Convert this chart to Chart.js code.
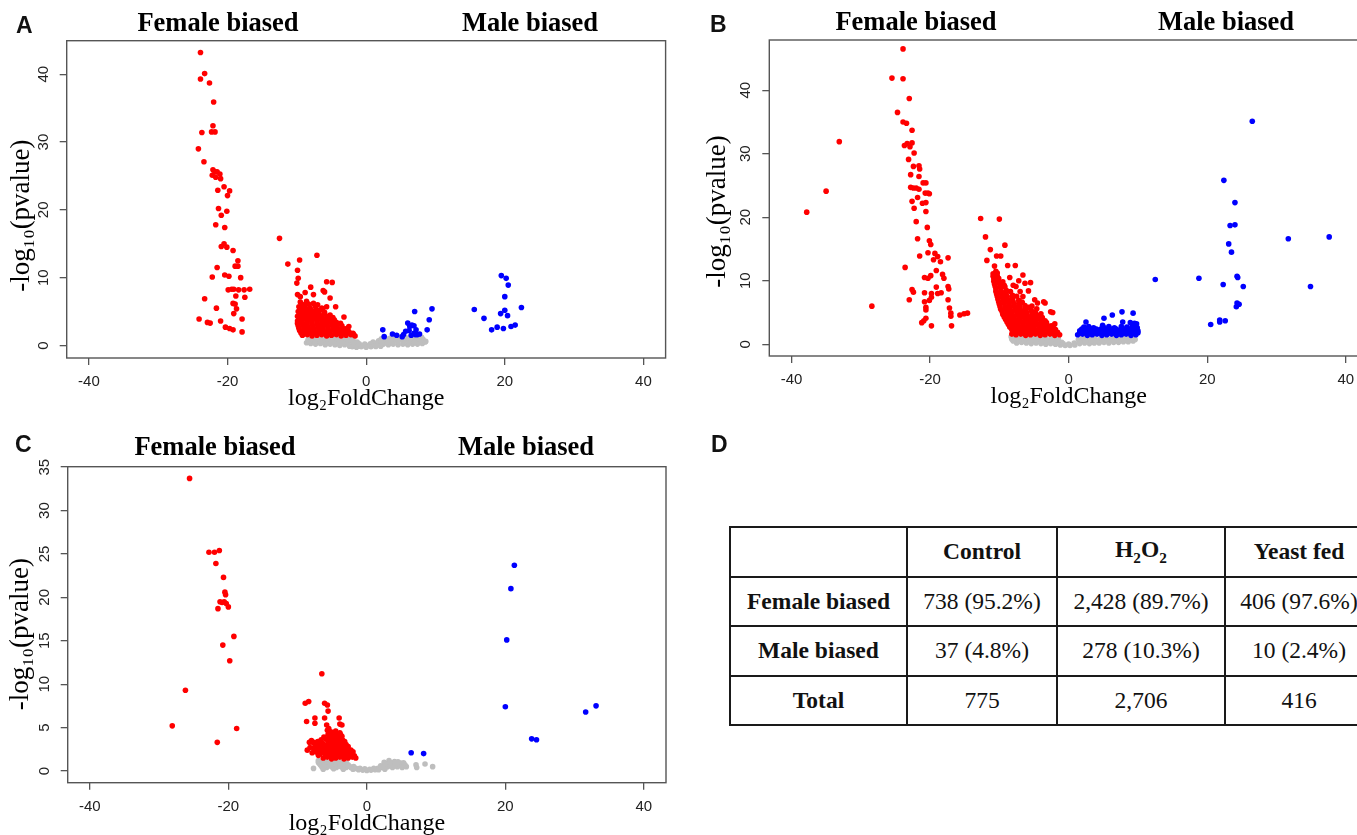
<!DOCTYPE html>
<html><head><meta charset="utf-8">
<script src="https://cdn.jsdelivr.net/npm/chart.js@4.4.1/dist/chart.umd.min.js"></script>
<style>
html,body{margin:0;padding:0;background:#fff;}
body{width:1357px;height:835px;overflow:hidden;position:relative;}
.panel{position:absolute;}
.lbl{position:absolute;font:bold 23px "Liberation Sans",Arial,sans-serif;line-height:1;color:#111;}
.ttl{position:absolute;width:300px;text-align:center;font:bold 26.5px "Liberation Serif","Times New Roman",serif;line-height:1;color:#000;white-space:nowrap;}
#tbl{position:absolute;left:729px;top:526px;border-collapse:collapse;table-layout:fixed;width:643px;font:23.5px "Liberation Serif","Times New Roman",serif;color:#111;}
#tbl td{border:2px solid #1a1a1a;text-align:center;padding:0;height:46px;white-space:nowrap;}
#tbl .b{font-weight:bold;}
#tbl sub{font-size:65%;}
</style></head>
<body>
<div class="panel" style="left:0;top:0;width:680px;height:422px"><canvas id="cA" width="680" height="422"></canvas></div>
<div class="panel" style="left:680px;top:0;width:700px;height:420px"><canvas id="cB" width="700" height="420"></canvas></div>
<div class="panel" style="left:0;top:420px;width:680px;height:427px"><canvas id="cC" width="680" height="427"></canvas></div>
<div class="lbl" style="left:16px;top:14px">A</div>
<div class="lbl" style="left:710px;top:13px">B</div>
<div class="lbl" style="left:15px;top:433px">C</div>
<div class="lbl" style="left:711px;top:433px">D</div>
<div id="titles"></div>
<table id="tbl"><colgroup><col style="width:177px"><col style="width:150px"><col style="width:168px"><col style="width:148px"></colgroup><tbody id="tb"></tbody></table>
<script>
// ---------- data ----------
const xTickValues = [-40, -20, 0, 20, 40];
const xRange = [-43.2, 43.2];
const yTicksA = [0, 10, 20, 30, 40];
const yTicksB = [0, 10, 20, 30, 40];
const yTicksC = [0, 5, 10, 15, 20, 25, 30, 35];
const yRangeA = [-1.85, 44.95];
const yRangeB = [-1.85, 47.9];
const yRangeC = [-1.35, 35.05];
const xTitle = 'log\u2082FoldChange';
const yTitle = '-log\u2081\u2080(pvalue)';
const groupTitles = ['Female biased', 'Male biased'];

// Panel A (Control)
const aFemale = [
[-23.9,43.2],[-23.3,40.1],[-23.9,39.3],[-22.6,38.7],[-22.0,35.9],[-22.1,32.4],[-23.7,31.4],[-22.3,31.5],[-21.8,31.5],[-24.2,29.0],[-23.4,27.1],
[-22.1,25.9],[-21.8,25.6],[-21.5,25.6],[-21.1,25.3],[-22.2,25.1],[-21.7,24.8],[-21.0,24.6],[-20.5,23.4],[-21.4,22.9],[-19.7,22.8],[-20.0,22.1],
[-21.3,20.2],[-20.1,19.8],[-20.9,19.2],[-20.4,17.4],[-21.7,17.8],[-20.5,15.0],[-20.1,14.5],[-20.9,14.6],[-19.2,14.0],[-18.5,12.5],[-18.9,11.7],
[-18.5,11.7],[-21.5,11.5],[-18.1,10.0],[-20.4,10.4],[-19.8,10.2],[-22.2,10.1],[-19.9,8.2],[-19.4,8.3],[-19.1,8.3],[-18.4,8.2],[-17.6,8.2],
[-16.8,8.3],[-18.8,7.3],[-17.5,7.1],[-23.3,6.9],[-19.2,6.2],[-18.9,6.1],[-18.7,5.4],[-21.6,5.5],[-19.1,4.7],[-17.9,3.9],[-24.1,3.9],[-22.9,3.4],
[-22.5,3.3],[-21.0,3.6],[-20.3,2.7],[-19.7,2.5],[-19.2,2.3],[-17.9,2.0],
[-12.5,15.8],[-11.3,12.0],[-9.6,12.6],[-7.1,13.3],[-9.9,11.1],[-9.8,9.9],[-10.0,9.2],[-5.7,9.4],[-4.9,9.3],[-8.0,8.6],[-6.2,8.1],[-6.0,7.9],
[-9.9,7.5],[-9.5,7.2],[-8.8,7.8],[-7.6,7.5],[-5.2,7.0],[-4.4,5.7],[-3.2,4.2],[-2.5,2.8],[-1.8,1.6],[-9.1,1.6],[-5.7,5.7],
[-9.2,1.5],[-8.5,1.6],[-7.8,1.4],[-7.1,1.5],[-6.4,1.6],[-5.7,1.4],[-5.0,1.5],[-4.3,1.6],[-3.6,1.4],[-2.9,1.5],[-2.2,1.6],[-1.6,1.4],
[-9.4,1.85],[-8.7,1.9],[-8.0,1.8],[-7.3,1.85],[-6.6,1.9],[-5.9,1.8],[-5.2,1.85],[-4.5,1.9],[-3.8,1.8],[-3.1,1.85],[-2.4,1.9],[-1.9,1.8],
[-9.6,2.2],[-8.9,2.3],[-8.2,2.1],[-7.5,2.2],[-6.8,2.3],[-6.1,2.1],[-5.4,2.2],[-4.7,2.3],[-4.0,2.1],[-3.3,2.2],[-2.6,2.2],
[-9.7,2.55],[-9.0,2.6],[-8.3,2.5],[-7.6,2.55],[-6.9,2.6],[-6.2,2.5],[-5.5,2.55],[-4.8,2.6],[-4.1,2.5],[-3.4,2.55],[-2.8,2.5],
[-9.8,2.9],[-9.1,3.0],[-8.4,2.8],[-7.7,2.9],[-7.0,3.0],[-6.3,2.8],[-5.6,2.9],[-4.9,3.0],[-4.2,2.8],[-3.5,2.9],
[-9.9,3.25],[-9.2,3.3],[-8.5,3.2],[-7.8,3.25],[-7.1,3.3],[-6.4,3.2],[-5.7,3.25],[-5.0,3.3],[-4.3,3.2],[-3.7,3.25],
[-9.9,3.6],[-9.2,3.7],[-8.5,3.5],[-7.8,3.6],[-7.1,3.7],[-6.4,3.5],[-5.7,3.6],[-5.0,3.7],[-4.3,3.4],
[-9.5,3.95],[-8.8,4.0],[-8.1,3.9],[-7.4,3.95],[-6.7,4.0],[-6.0,3.9],[-5.3,3.95],[-4.6,3.8],
[-9.9,4.3],[-9.2,4.4],[-8.5,4.2],[-7.8,4.3],[-7.1,4.4],[-6.4,4.2],[-5.6,4.3],[-4.8,4.1],
[-9.6,4.65],[-8.9,4.7],[-8.2,4.6],[-7.5,4.65],[-6.8,4.7],[-6.1,4.6],[-5.2,4.5],
[-9.8,5.0],[-9.1,5.1],[-8.4,4.9],[-7.7,5.0],[-6.9,5.1],[-6.0,4.9],
[-9.4,5.35],[-8.7,5.4],[-8.0,5.3],[-7.2,5.35],[-6.3,5.3],
[-9.7,5.7],[-8.9,5.8],[-8.1,5.6],[-7.3,5.7],[-6.4,5.5],
[-9.2,6.05],[-8.3,6.1],[-7.0,6.0],
[-9.5,6.4],[-8.6,6.5],[-7.6,6.2]
];
const aMale = [
[2.4,2.3],[2.6,1.3],[3.8,1.7],[4.4,1.5],[5.4,1.6],[5.2,1.3],[6.0,3.3],[6.3,2.8],[6.6,3.0],[6.9,1.8],[7.2,2.3],[7.1,1.6],[7.0,5.0],
[7.4,1.6],[7.7,1.7],[5.7,2.1],[6.2,2.2],[6.9,2.9],[8.8,2.3],[9.1,3.8],[9.5,5.4],[15.6,5.3],[17.0,4.0],[18.1,2.3],[18.9,2.7],[19.4,4.7],
[19.5,10.3],[20.2,9.9],[20.5,8.9],[20.0,7.2],[20.0,5.2],[20.4,4.4],[19.8,2.5],[20.9,2.8],[21.5,3.0],[22.4,5.6],[6.5,1.5]
];
const aNS = [
[-8.0,0.3],[-7.3,0.2],[-6.6,0.3],[-5.9,0.1],[-5.2,0.2],[-4.5,0.1],[-3.8,0.0],[-3.1,0.1],[-2.4,-0.1],[-1.7,0.0],[-1.0,-0.1],[-0.3,0.0],
[0.4,0.0],[1.1,0.1],[1.8,0.1],[2.5,0.2],[3.2,0.1],[3.9,0.2],[4.6,0.1],[5.3,0.2],[6.0,0.1],[6.7,0.2],[7.4,0.2],[8.1,0.3],
[-8.4,0.8],[-7.6,0.7],[-6.8,0.8],[-6.0,0.7],[-5.2,0.8],[-4.4,0.7],[-3.6,0.6],[-2.8,0.7],[-2.0,0.6],[-1.3,0.5],[1.0,0.5],[1.8,0.7],
[2.6,0.8],[3.4,0.7],[4.2,0.8],[5.0,0.9],[5.8,0.8],[6.6,0.9],[7.4,0.8],[8.2,0.9],
[-8.2,1.2],[-6.5,1.1],[-4.8,1.1],[-3.0,1.0],[-1.9,1.0],[2.2,1.0],[3.5,1.1],[4.8,1.2],[5.9,1.1],[7.0,1.2],[8.0,1.2],[8.5,0.5],[-8.6,0.4],
[-8.2,0.55],[-7.4,0.5],[-6.6,0.55],[-5.8,0.45],[-5.0,0.5],[-4.2,0.45],[-3.4,0.4],[-2.6,0.35],[-1.8,0.3],[-1.0,0.25],[-0.2,0.2],[0.6,0.25],
[1.4,0.3],[2.2,0.45],[3.0,0.45],[3.8,0.5],[4.6,0.5],[5.4,0.55],[6.2,0.5],[7.0,0.55],[7.8,0.55],[8.6,0.6],
[-2.0,-0.2],[-1.4,-0.25],[-0.7,-0.2],[0.0,-0.25],[0.7,-0.2],[1.4,-0.15],[2.1,-0.1],
[-7.9,1.05],[-7.1,1.0],[-5.6,1.0],[-4.0,0.95],[-2.4,0.9],[3.0,0.95],[4.2,1.0],[5.3,1.05],[6.4,1.0],[7.5,1.05]
];

// Panel B (H2O2)
const bFemale = [
[-37.8,20.8],[-35.0,24.1],[-33.1,31.9],[-28.4,6.0],[-23.9,46.5],[-25.5,41.9],[-23.9,41.8],[-23.0,38.7],[-24.7,36.5],[-23.9,35.0],[-23.4,34.8],
[-22.6,33.7],[-22.6,31.7],[-23.7,31.3],[-23.3,31.6],[-22.9,31.1],[-22.3,30.1],[-23.1,29.1],[-22.4,28.0],[-21.6,28.1],[-21.5,27.6],[-22.8,26.7],
[-21.6,26.4],[-21.0,25.4],[-20.6,25.4],[-22.8,24.7],[-22.4,24.6],[-22.0,24.6],[-21.6,24.4],[-20.7,23.8],[-20.3,23.8],[-20.1,23.7],[-21.8,23.1],
[-22.6,22.5],[-21.1,22.2],[-20.6,22.3],[-22.3,21.4],[-20.6,20.9],[-22.0,19.3],[-20.4,18.4],[-21.8,16.6],[-20.1,16.3],[-19.9,15.7],[-21.5,13.9],
[-20.3,14.4],[-19.3,14.3],[-18.9,13.8],[-18.5,13.0],[-19.5,13.3],[-17.4,13.6],[-23.6,12.1],[-20.8,10.5],[-20.3,10.4],[-19.9,10.8],[-19.1,11.6],
[-18.2,11.0],[-18.0,10.4],[-22.6,8.6],[-22.4,8.2],[-19.1,9.0],[-17.4,9.1],[-17.3,8.7],[-18.9,8.0],[-18.4,8.1],[-20.8,8.1],[-19.8,8.0],[-23.0,7.0],
[-19.8,7.4],[-20.1,6.9],[-20.8,6.7],[-20.6,5.8],[-20.6,5.4],[-17.4,7.0],[-17.2,5.7],[-17.0,4.9],[-17.0,4.4],[-15.7,4.6],[-15.1,4.8],[-14.6,4.9],
[-20.6,4.1],[-20.9,3.7],[-21.2,3.4],[-19.8,2.9],[-16.9,2.9],
[-12.7,19.8],[-10.0,19.7],[-12.0,16.9],[-11.3,14.9],[-9.2,15.6],[-11.8,13.2],[-10.4,13.9],[-9.8,13.9],[-8.8,12.4],[-7.7,12.4],[-6.6,10.9],
[-10.7,12.3],[-10.5,11.5],[-6.3,9.6],[-5.5,9.7],[-4.9,7.0],[-4.5,6.5],[-3.6,6.7],[-3.4,6.5],[-2.6,5.1],[-2.3,5.0],[-7.2,10.0],[-8.0,9.3],
[-5.8,8.4],[-4.0,4.8],[-2.0,3.2],[-8.2,1.6],[-7.0,8.3],[-6.6,7.5],[-7.6,9.1],[-8.5,10.5],[-5.3,6.0],[-4.6,5.6],
[-7.6,1.5],[-6.9,1.6],[-6.2,1.4],[-5.5,1.5],[-4.8,1.6],[-4.1,1.4],[-3.4,1.5],[-2.7,1.6],[-2.0,1.4],[-1.3,1.5],
[-7.9,1.9],[-7.2,1.95],[-6.5,1.85],[-5.8,1.9],[-5.1,1.95],[-4.4,1.85],[-3.7,1.9],[-3.0,1.95],[-2.3,1.85],[-1.6,1.9],
[-8.2,2.3],[-7.5,2.4],[-6.8,2.2],[-6.1,2.3],[-5.4,2.4],[-4.7,2.2],[-4.0,2.3],[-3.3,2.4],[-2.6,2.2],[-1.9,2.3],
[-8.5,2.7],[-7.8,2.75],[-7.1,2.65],[-6.4,2.7],[-5.7,2.75],[-5.0,2.65],[-4.3,2.7],[-3.6,2.75],[-2.9,2.65],[-2.2,2.6],
[-8.7,3.1],[-8.0,3.2],[-7.3,3.0],[-6.6,3.1],[-5.9,3.2],[-5.2,3.0],[-4.5,3.1],[-3.8,3.2],[-3.1,3.0],[-2.5,2.9],
[-8.9,3.5],[-8.2,3.55],[-7.5,3.45],[-6.8,3.5],[-6.1,3.55],[-5.4,3.45],[-4.7,3.5],[-4.0,3.55],[-3.2,3.4],
[-9.1,3.9],[-8.4,4.0],[-7.7,3.8],[-7.0,3.9],[-6.3,4.0],[-5.6,3.8],[-4.9,3.9],[-4.2,4.0],[-3.4,3.7],
[-9.3,4.3],[-8.6,4.35],[-7.9,4.25],[-7.2,4.3],[-6.5,4.35],[-5.8,4.25],[-5.1,4.3],[-4.4,4.35],[-3.8,4.2],
[-9.5,4.7],[-8.8,4.8],[-8.1,4.6],[-7.4,4.7],[-6.7,4.8],[-6.0,4.6],[-5.3,4.7],[-4.5,4.5],
[-9.6,5.1],[-8.9,5.15],[-8.2,5.05],[-7.5,5.1],[-6.8,5.15],[-6.1,5.05],[-5.3,5.1],[-4.8,5.0],
[-9.8,5.5],[-9.1,5.6],[-8.4,5.4],[-7.7,5.5],[-7.0,5.6],[-6.3,5.4],[-5.4,5.3],
[-9.9,5.9],[-9.2,5.95],[-8.5,5.85],[-7.8,5.9],[-7.1,5.95],[-6.3,5.85],[-5.8,5.8],
[-10.0,6.3],[-9.3,6.4],[-8.6,6.2],[-7.9,6.3],[-7.2,6.4],[-6.3,6.1],
[-10.1,6.7],[-9.4,6.75],[-8.7,6.65],[-8.0,6.7],[-7.1,6.75],[-6.7,6.6],
[-10.2,7.1],[-9.5,7.2],[-8.8,7.0],[-8.1,7.1],[-7.2,6.9],
[-10.3,7.5],[-9.6,7.55],[-8.9,7.45],[-8.2,7.5],[-7.5,7.55],
[-10.4,7.9],[-9.7,8.0],[-9.0,7.8],[-8.1,7.7],
[-10.5,8.3],[-9.8,8.35],[-9.1,8.25],[-8.4,8.3],
[-10.5,8.7],[-9.8,8.8],[-9.0,8.5],
[-10.6,9.1],[-9.9,9.15],[-9.2,9.05],
[-10.7,9.5],[-10.0,9.6],[-9.3,9.3],
[-10.8,9.9],[-10.1,9.95],[-9.5,9.85],
[-10.8,10.3],[-10.1,10.4],
[-10.9,10.7],[-10.3,10.75],
[-10.9,11.1],[-10.3,11.2]
];
const bMale = [
[2.5,3.5],[5.1,4.1],[6.3,4.6],[7.7,5.1],[9.3,4.9],[8.9,3.4],[9.5,3.3],[9.8,3.2],[7.8,3.5],[4.9,3.0],[5.8,2.8],
[12.5,10.2],[18.8,10.4],[22.4,25.8],[24.0,22.3],[23.3,18.7],[24.0,18.8],[23.1,15.8],[23.5,14.5],[24.3,10.7],[24.4,10.5],[22.3,9.4],
[25.2,9.1],[24.3,6.5],[24.6,6.3],[24.2,5.9],[20.5,3.1],[21.8,3.8],[21.8,3.5],[22.6,3.7],[26.5,35.1],[31.7,16.6],[34.9,9.1],[37.6,16.9],
[1.3,1.5],[2.0,1.6],[2.7,1.4],[3.4,1.5],[4.1,1.6],[4.8,1.4],[5.5,1.5],[6.2,1.6],[6.9,1.4],[7.6,1.5],[8.3,1.6],[9.0,1.4],[9.7,1.5],
[1.6,1.8],[2.3,1.85],[3.0,1.75],[3.7,1.8],[4.4,1.85],[5.1,1.75],[5.8,1.8],[6.5,1.85],[7.2,1.75],[7.9,1.8],[8.6,1.85],[9.3,1.75],[10.0,1.8],
[1.6,2.1],[2.3,2.2],[3.0,2.0],[3.7,2.1],[4.4,2.2],[5.1,2.0],[5.8,2.1],[6.5,2.2],[7.2,2.0],[7.9,2.1],[8.6,2.2],[9.3,2.0],[10.0,2.1],
[1.9,2.4],[2.6,2.45],[3.3,2.35],[4.0,2.4],[4.7,2.45],[5.4,2.35],[6.1,2.4],[6.8,2.45],[7.5,2.35],[8.2,2.4],[8.9,2.45],[9.6,2.35],
[2.2,2.7],[2.9,2.8],[3.6,2.6],[5.0,2.7],[6.6,2.6],[7.6,2.8],[8.4,2.7],[9.2,2.8],[9.9,2.6]
];
const bNS = [
[-7.5,0.2],[-6.8,0.3],[-6.1,0.2],[-5.4,0.1],[-4.7,0.2],[-4.0,0.1],[-3.3,0.0],[-2.6,0.1],[-1.9,0.0],[-1.2,-0.1],[-0.5,-0.2],[0.2,-0.2],
[0.9,-0.1],[1.6,0.1],[2.3,0.2],[3.0,0.1],[3.7,0.2],[4.4,0.2],[5.1,0.3],[5.8,0.2],[6.5,0.3],[7.2,0.3],[7.9,0.4],[8.6,0.4],[9.3,0.5],
[-8.2,0.8],[-7.4,0.9],[-6.6,0.8],[-5.8,0.7],[-5.0,0.8],[-4.2,0.7],[-3.4,0.6],[-2.6,0.7],[-1.8,0.5],[-1.0,0.3],[1.4,0.7],[2.2,0.8],
[3.0,0.8],[3.8,0.9],[4.6,0.8],[5.4,0.9],[6.2,0.9],[7.0,1.0],[7.8,0.9],[8.6,1.0],[9.4,1.0],
[-8.3,1.2],[-7.0,1.2],[-5.5,1.1],[-4.0,1.1],[-2.5,1.0],[-1.5,0.9],
[-8.0,0.5],[-7.2,0.55],[-6.4,0.5],[-5.6,0.45],[-4.8,0.5],[-4.0,0.45],[-3.2,0.4],[-2.4,0.35],[-1.6,0.25],[-0.8,0.1],[0.0,0.05],[0.8,0.2],
[1.6,0.4],[2.4,0.5],[3.2,0.5],[4.0,0.55],[4.8,0.55],[5.6,0.6],[6.4,0.6],[7.2,0.65],[8.0,0.7],[8.8,0.7],[9.6,0.75],
[-7.8,1.05],[-6.3,1.0],[-4.8,1.0],[-3.3,0.95],[-2.0,0.85],[2.0,1.05],[3.5,1.1],[5.0,1.1],[6.5,1.15],[8.0,1.15],[9.2,1.2]
];

// Panel C (Yeast fed)
const cFemale = [
[-25.6,33.7],[-22.8,25.2],[-22.0,25.2],[-21.3,25.4],[-21.8,23.9],[-20.7,22.3],[-20.5,20.6],[-20.4,20.3],[-21.2,19.5],[-20.6,19.5],
[-20.9,19.4],[-20.3,19.3],[-21.5,18.7],[-20.0,18.9],[-19.2,15.5],[-20.8,14.5],[-19.8,12.7],[-26.2,9.3],[-28.1,5.2],[-18.8,4.9],[-21.6,3.3],
[-6.5,11.2],[-8.9,7.8],[-8.4,8.0],[-6.1,7.8],[-5.7,7.6],[-5.6,6.9],[-8.7,5.7],[-7.5,6.1],[-7.5,5.5],[-6.1,6.1],[-5.8,5.3],[-5.5,4.9],
[-5.7,4.7],[-4.0,6.1],[-3.9,5.4],[-3.6,5.3],[-8.3,3.3],[-8.0,3.5],[-7.7,3.3],[-8.6,2.4],[-7.6,2.6],
[-6.3,1.5],[-5.7,1.6],[-5.1,1.4],[-4.5,1.5],[-3.9,1.6],[-3.3,1.4],[-2.7,1.5],[-2.1,1.6],[-1.6,1.5],
[-7.0,1.8],[-6.0,1.85],[-5.4,1.75],[-4.8,1.8],[-4.2,1.85],[-3.6,1.75],[-3.0,1.8],[-2.4,1.85],[-1.8,1.75],
[-7.9,2.1],[-7.3,2.2],[-6.7,2.0],[-6.1,2.1],[-5.5,2.2],[-4.9,2.0],[-4.3,2.1],[-3.7,2.2],[-3.1,2.0],[-2.5,2.1],[-2.0,2.2],
[-7.6,2.4],[-7.0,2.45],[-6.4,2.35],[-5.8,2.4],[-5.2,2.45],[-4.6,2.35],[-4.0,2.4],[-3.4,2.45],[-2.8,2.35],[-2.3,2.4],
[-8.2,2.7],[-7.5,2.8],[-6.9,2.6],[-6.3,2.7],[-5.7,2.8],[-5.1,2.6],[-4.5,2.7],[-3.9,2.8],[-3.3,2.6],[-2.7,2.8],
[-7.2,3.0],[-6.6,3.05],[-6.0,2.95],[-5.4,3.0],[-4.8,3.05],[-4.2,2.95],[-3.6,3.0],[-3.0,3.05],
[-7.8,3.3],[-7.1,3.4],[-6.4,3.2],[-5.6,3.3],[-5.0,3.4],[-4.4,3.2],[-3.8,3.3],[-3.2,3.4],
[-6.6,3.6],[-5.9,3.65],[-5.3,3.55],[-4.7,3.6],[-4.1,3.65],[-3.5,3.55],
[-6.2,3.9],[-5.4,4.0],[-4.8,3.8],[-4.2,3.9],[-3.6,4.0],
[-5.6,4.2],[-5.0,4.25],[-4.4,4.15],[-3.8,4.2],
[-5.2,4.5],[-4.5,4.6],[-3.9,4.4]
];
const cMale = [
[21.3,23.7],[20.8,21.0],[20.2,15.1],[20.0,7.4],[23.8,3.7],[24.5,3.6],[31.6,6.8],[33.1,7.5],[6.4,2.1],[8.2,2.0]
];
const cNS = [
[-1.2,0.15],[-0.6,0.1],[0.0,0.05],[0.6,0.1],[1.2,0.15],
[-6.5,0.5],[-5.8,0.4],[-5.1,0.5],[-4.4,0.4],[-3.7,0.5],[-3.0,0.4],[-2.3,0.4],[-1.6,0.3],[1.6,0.3],[2.3,0.4],[3.0,0.5],[3.7,0.4],[4.4,0.5],
[5.1,0.4],[5.7,0.5],
[-6.9,0.9],[-6.2,0.9],[-5.5,0.8],[-4.8,0.9],[-4.1,0.8],[-3.4,0.8],[-2.7,0.7],[2.8,0.8],[3.5,0.9],[4.2,0.8],[4.9,0.9],
[-7.0,1.2],[-6.0,1.2],[-5.0,1.2],[-4.0,1.1],[-3.0,1.1],[3.2,1.2],[4.0,1.1],
[-7.7,0.3],[-6.3,0.2],[7.1,0.7],[7.2,0.4],[8.4,0.8],[9.5,0.5],[-7.0,1.0],
[-6.7,0.7],[-6.0,0.65],[-5.3,0.7],[-4.6,0.65],[-3.9,0.6],[-3.2,0.6],[-2.5,0.55],[-1.9,0.5],[2.0,0.6],[2.7,0.65],[3.4,0.7],[4.1,0.65],
[4.8,0.7],[5.5,0.7],
[-4.8,0.25],[-3.4,0.2],[-2.0,0.2],[-1.0,0.3],[-0.3,0.25],[0.4,0.2],[1.0,0.3],[1.7,0.15],[2.6,0.2],
[2.5,1.0],[3.3,1.0],[4.5,1.05],[5.3,0.95],[-6.5,1.05],[-5.5,1.0],[-4.5,1.0],[-3.5,0.95]
];

// Panel D table
const tableHeader = ['', 'Control', 'H<sub>2</sub>O<sub>2</sub>', 'Yeast fed'];
const rowLabels = ['Female biased', 'Male biased', 'Total'];
const controlCol = ['738 (95.2%)', '37 (4.8%)', '775'];
const h2o2Col = ['2,428 (89.7%)', '278 (10.3%)', '2,706'];
const yeastCol = ['406 (97.6%)', '10 (2.4%)', '416'];

// ---------- layout / styling ----------
const layouts = {
  A: {w: 680, h: 422, area: {l: 66.7, t: 40.7, r: 665.6, b: 358}, yTitleX: 22, ySuffix: '\u2003\u2009'},
  B: {w: 700, h: 420, area: {l: 89.3, t: 40, r: 688, b: 356}, yTitleX: 38, ySuffix: '\u2003'},
  C: {w: 680, h: 427, area: {l: 67.7, t: 46.7, r: 666, b: 362.7}, yTitleX: 21, ySuffix: '\u2002\u2009'}
};
const sansFam = '"Liberation Sans", Arial, sans-serif';
const serifFam = '"Liberation Serif", "Times New Roman", serif';

const boxPlugin = {
  id: 'rbox',
  afterDraw(chart) {
    const {ctx, chartArea: a} = chart;
    ctx.save();
    ctx.strokeStyle = '#555';
    ctx.lineWidth = 1.4;
    ctx.strokeRect(a.left, a.top, a.right - a.left, a.bottom - a.top);
    ctx.restore();
  }
};

const toPts = arr => arr.map(([x, y]) => ({x, y}));

function volcano(id, L, female, male, ns, yTicks, yRange) {
  const ds = (d, color, order) => ({data: toPts(d), backgroundColor: color, borderWidth: 0,
    pointRadius: 2.8, pointHoverRadius: 2.8, order});
  const tickFont = {family: sansFam, size: 15};
  const grid = {display: true, drawOnChartArea: false, drawTicks: true, tickLength: 7, color: '#555', lineWidth: 1.3};
  return new Chart(document.getElementById(id), {
    type: 'scatter',
    data: {datasets: [ds(female, '#FF0000', 1), ds(male, '#0000FF', 1), ds(ns, '#BEBEBE', 2)]},
    options: {
      responsive: false, animation: false, devicePixelRatio: 1,
      layout: {padding: {left: 0, top: L.area.t, right: L.w - L.area.r, bottom: 0}},
      plugins: {legend: {display: false}, tooltip: {enabled: false}, title: {display: false}},
      scales: {
        x: {
          type: 'linear', bounds: 'data', min: xRange[0], max: xRange[1],
          afterBuildTicks: s => { s.ticks = xTickValues.map(v => ({value: v})); },
          afterFit: s => { s.height = L.h - L.area.b; },
          grid, border: {display: false},
          ticks: {font: tickFont, color: '#222', padding: 8, autoSkip: false, maxRotation: 0, minRotation: 0},
          title: {display: true, text: xTitle, color: '#000', font: {family: serifFam, size: 24}, padding: {top: 0, bottom: 8.6}}
        },
        y: {
          type: 'linear', bounds: 'data', min: yRange[0], max: yRange[1],
          afterBuildTicks: s => { s.ticks = yTicks.map(v => ({value: v})); },
          afterFit: s => { s.width = L.area.l; },
          grid, border: {display: false},
          ticks: {font: tickFont, color: '#222', padding: 7.7, autoSkip: false, minRotation: 90, maxRotation: 90, crossAlign: 'center'},
          title: {display: true, text: yTitle + L.ySuffix, color: '#000', font: {family: serifFam, size: 27}, padding: {top: L.yTitleX - 16.2, bottom: 0}}
        }
      }
    },
    plugins: [boxPlugin]
  });
}

volcano('cA', layouts.A, aFemale, aMale, aNS, yTicksA, yRangeA);
volcano('cB', layouts.B, bFemale, bMale, bNS, yTicksB, yRangeB);
volcano('cC', layouts.C, cFemale, cMale, cNS, yTicksC, yRangeC);

// group titles
const titlePos = [
  {cx: 218, top: 8.8}, {cx: 530, top: 8.8},
  {cx: 916, top: 7.8}, {cx: 1226, top: 7.8},
  {cx: 215, top: 432.8}, {cx: 526, top: 432.8}
];
const tdiv = document.getElementById('titles');
titlePos.forEach((p, i) => {
  const d = document.createElement('div');
  d.className = 'ttl';
  d.textContent = groupTitles[i % 2];
  d.style.left = (p.cx - 150) + 'px';
  d.style.top = p.top + 'px';
  tdiv.appendChild(d);
});

// table
const tb = document.getElementById('tb');
let html = '<tr style="height:49.5px">' + tableHeader.map(h => '<td class="b">' + h + '</td>').join('') + '</tr>';
rowLabels.forEach((r, i) => {
  html += '<tr style="height:49.5px"><td class="b">' + r + '</td><td>' + controlCol[i] + '</td><td>' + h2o2Col[i] + '</td><td>' + yeastCol[i] + '</td></tr>';
});
tb.innerHTML = html;
</script>
</body></html>
